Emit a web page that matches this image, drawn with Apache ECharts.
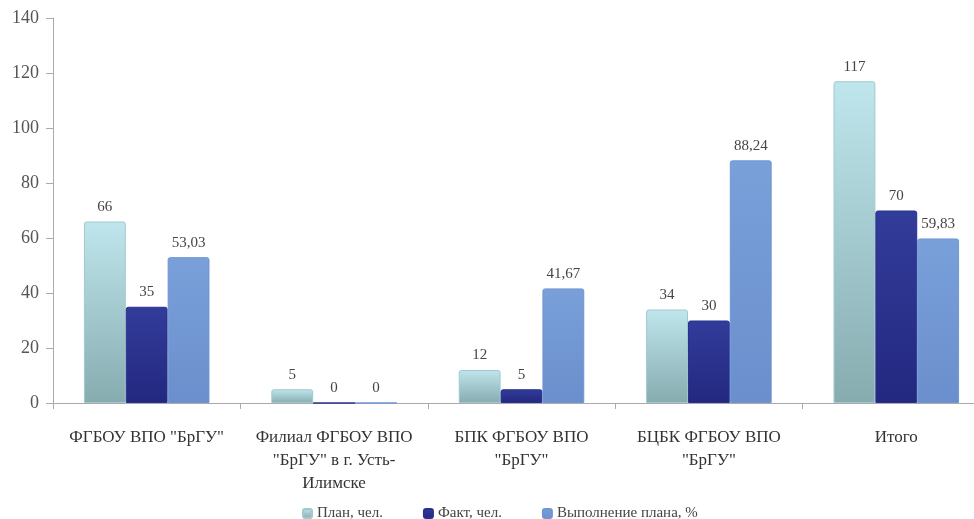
<!DOCTYPE html>
<html><head><meta charset="utf-8">
<script src="https://cdn.jsdelivr.net/npm/echarts@6/dist/echarts.min.js"></script>
<style>html,body{margin:0;padding:0;background:#fff}#c{width:974px;height:519px}</style>
</head><body><div id="c"></div>
<script>
const categories = ['ФГБОУ ВПО "БрГУ"', 'Филиал ФГБОУ ВПО\n"БрГУ" в г. Усть-\nИлимске', 'БПК ФГБОУ ВПО\n"БрГУ"', 'БЦБК ФГБОУ ВПО\n"БрГУ"', 'Итого'];
const seriesNames = ['План, чел.', 'Факт, чел.', 'Выполнение плана, %'];
const plan = [66, 5, 12, 34, 117];
const fact = [35, 0, 5, 30, 70];
const percent = [53.03, 0, 41.67, 88.24, 59.83];
const yTicks = {min: 0, max: 140, interval: 20};

const font = '"Liberation Serif", "DejaVu Serif", serif';
const chart = echarts.init(document.getElementById('c'));
const grad = (a, b) => new echarts.graphic.LinearGradient(0, 0, 0, 1, [{offset: 0, color: a}, {offset: 1, color: b}]);
const fmt = p => String(p.value).replace('.', ',');
const lbl = {show: true, position: 'top', distance: 7, color: '#444', fontFamily: font, fontSize: 15, formatter: fmt};
chart.setOption({
  animation: false,
  textStyle: {fontFamily: font},
  grid: {left: 53, width: 937, top: 18, height: 385, containLabel: false, outerBoundsMode: 'none'},
  legend: {
    top: 501, left: 297, itemWidth: 9, itemHeight: 9, itemGap: 40,
    textStyle: {fontFamily: font, fontSize: 15, color: '#444'},
    data: seriesNames
  },
  xAxis: {
    type: 'category', data: categories,
    axisLine: {lineStyle: {color: '#aaa'}},
    axisTick: {show: true, length: 6, lineStyle: {color: '#aaa'}},
    axisLabel: {color: '#333', fontFamily: font, fontSize: 17, margin: 23, lineHeight: 23, interval: 0}
  },
  yAxis: {
    type: 'value', min: yTicks.min, max: yTicks.max, interval: yTicks.interval,
    axisLine: {show: true, lineStyle: {color: '#aaa'}},
    axisTick: {show: true, length: 7, lineStyle: {color: '#aaa'}},
    splitLine: {show: false},
    axisLabel: {color: '#555', fontFamily: font, fontSize: 18, margin: 14}
  },
  series: [
    {name: seriesNames[0], type: 'bar', data: plan, barGap: '0%', barCategoryGap: '33%',
     itemStyle: {color: grad('#bfe6ec', '#86acb0'), borderColor: '#9fc9cf', borderWidth: 1, borderRadius: [2,2,0,0]}, label: lbl},
    {name: seriesNames[1], type: 'bar', data: fact,
     itemStyle: {color: grad('#323c9a', '#23287f'), borderColor: '#283090', borderWidth: 1, borderRadius: [2,2,0,0]}, label: lbl},
    {name: seriesNames[2], type: 'bar', data: percent,
     itemStyle: {color: grad('#7aa0da', '#6a8fcc'), borderColor: '#6f96d2', borderWidth: 1, borderRadius: [2,2,0,0]}, label: lbl}
  ]
});
</script></body></html>
